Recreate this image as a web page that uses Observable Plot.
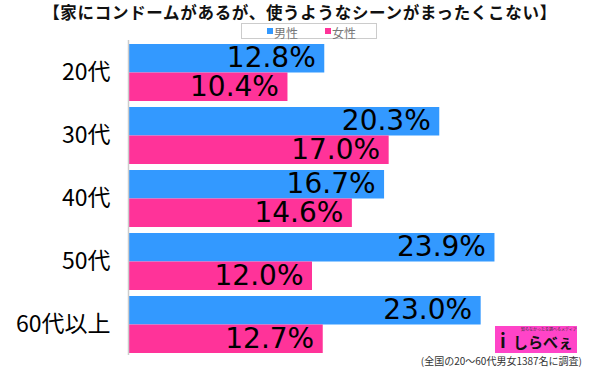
<!DOCTYPE html>
<html>
<head>
<meta charset="utf-8">
<script src="https://cdn.jsdelivr.net/npm/d3@7"></script>
<script src="https://cdn.jsdelivr.net/npm/@observablehq/plot@0.6"></script>
<style>
  html, body { margin: 0; padding: 0; background: #fff; }
  #wrap { position: relative; width: 600px; height: 368px; overflow: hidden; font-family: "Noto Sans CJK JP", "Noto Sans", sans-serif; }
  #title { position: absolute; left: 0; top: 0; width: 600px; text-align: center; font-weight: bold; font-size: 16.5px; line-height: 24px; color: #111; letter-spacing: 0.7px; white-space: nowrap; }
  #legend { position: absolute; left: 241px; top: 23px; width: 134px; height: 14px; border: 1px solid #ccc; font-size: 12px; line-height: 14px; color: #777; }
  #legend .sw { position: absolute; top: 4px; width: 6px; height: 6px; }
  #legend .lb { position: absolute; top: 1.5px; line-height: 13px; }
  #caption { position: absolute; right: 18px; top: 355px; font-size: 10px; line-height: 12px; color: #333; white-space: nowrap; }
  #logo { position: absolute; left: 495px; top: 326px; width: 82px; height: 27px; background: #ff44c8; overflow: hidden; }
  #logo .tiny { position: absolute; left: 26px; top: 1px; font-size: 4px; line-height: 5px; color: #333; white-space: nowrap; }
  #logo .name { position: absolute; left: 18px; top: 6px; font-size: 15px; line-height: 19px; font-weight: bold; color: #111; white-space: nowrap; }
  #logo .icon { position: absolute; left: 5px; top: 2px; font-size: 19px; line-height: 23px; font-weight: bold; color: #111; }
  svg { position: absolute; left: 0; top: 0; }
</style>
</head>
<body>
<div id="wrap">
  <div id="chart"></div>
  <div id="title"></div>
  <div id="legend"></div>
  <div id="logo"><span class="icon">i</span><span class="tiny">知らなかったを調べるメディア</span><span class="name">しらべぇ</span></div>
  <div id="caption"></div>
</div>
<script>
const titleText = "【家にコンドームがあるが、使うようなシーンがまったくこない】";
const captionText = "(全国の20～60代男女1387名に調査)";
const categories = ["20代", "30代", "40代", "50代", "60代以上"];
const seriesNames = ["男性", "女性"];
const seriesColors = ["#3399ff", "#ff3399"];
const male = [12.8, 20.3, 16.7, 23.9, 23.0];
const female = [10.4, 17.0, 14.6, 12.0, 12.7];

const maleRows = categories.map((c, i) => ({cat: c, value: male[i]}));
const femaleRows = categories.map((c, i) => ({cat: c, value: female[i]}));

document.getElementById("title").textContent = titleText;
document.getElementById("caption").textContent = captionText;

const legend = document.getElementById("legend");
const legendPos = [[25, 32], [83, 90]];
seriesNames.forEach((n, i) => {
  const sw = document.createElement("span");
  sw.className = "sw"; sw.style.left = legendPos[i][0] + "px"; sw.style.background = seriesColors[i];
  const lb = document.createElement("span");
  lb.className = "lb"; lb.style.left = legendPos[i][1] + "px"; lb.textContent = n;
  legend.appendChild(sw); legend.appendChild(lb);
});

const half = 28.5;
const numFont = "DejaVu Sans";
const chart = Plot.plot({
  width: 600,
  height: 368,
  marginLeft: 128,
  marginRight: 12,
  marginTop: 38,
  marginBottom: 9,
  style: {fontFamily: "Noto Sans CJK JP, sans-serif", background: "transparent"},
  x: {domain: [0, 30], axis: null},
  y: {domain: categories, padding: 0.095, label: null},
  marks: [
    Plot.barX(maleRows, {x: "value", y: "cat", fill: seriesColors[0], insetBottom: half}),
    Plot.barX(femaleRows, {x: "value", y: "cat", fill: seriesColors[1], insetTop: half}),
    Plot.ruleX([0], {stroke: "#cccccc", strokeWidth: 1.5, insetTop: 2, insetBottom: 4}),
    Plot.text(maleRows, {x: "value", y: "cat", text: d => d.value.toFixed(1) + "%", textAnchor: "end", dx: -9, dy: -15, fontSize: 28, fill: "#000", fontFamily: numFont}),
    Plot.text(femaleRows, {x: "value", y: "cat", text: d => d.value.toFixed(1) + "%", textAnchor: "end", dx: -9, dy: 14, fontSize: 28, fill: "#000", fontFamily: numFont}),
    Plot.axisY({tickSize: 0, tickPadding: 18, fontSize: 23, fill: "#000", label: null})
  ]
});
document.getElementById("chart").appendChild(chart);
</script>
</body>
</html>
